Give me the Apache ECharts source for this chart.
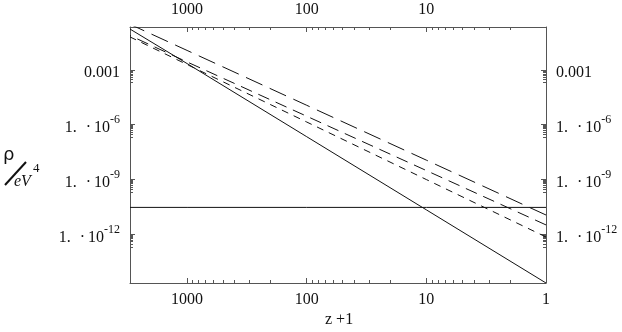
<!DOCTYPE html>
<html><head><meta charset="utf-8">
<script src="https://cdn.jsdelivr.net/npm/echarts@6/dist/echarts.min.js"></script>
<style>html,body{margin:0;padding:0;background:#fff}#c{width:622px;height:332px}</style>
</head><body><div id="c"></div>
<script>
// z+1 sample positions (log axis, reversed)
const zPlus1 = [1, 10, 100, 1000, 3000];
// energy densities in eV^4
const radiation   = [2.2e-15, 2.2e-11, 2.2e-7, 2.2e-3, 0.17];
const matterLong  = [1.15e-11, 1.15e-8, 1.15e-5, 1.15e-2, 0.31];
const matterMid   = [3.3e-12, 3.1e-9, 2.9e-6, 2.7e-3, 0.075];
const matterShort = [7.2e-13, 1.0e-9, 1.4e-6, 1.95e-3, 0.063];
const darkEnergy  = [3e-11, 3e-11, 3e-11, 3e-11, 3e-11];
// ticks
const xBottomLabels = [1, 10, 100, 1000];
const xTopLabels = [10, 100, 1000];
const xMinorTicks = [2,3,4,5,6,7,8,9,20,30,40,50,60,70,80,90,200,300,400,500,600,700,800,900];
const yMajorTicks = [1e-3, 1e-6, 1e-9, 1e-12];
const yMinorTicks = [2e-4,3e-4,4e-4,5e-4,6e-4,7e-4,8e-4,9e-4,
                     2e-7,3e-7,4e-7,5e-7,6e-7,7e-7,8e-7,9e-7,
                     2e-10,3e-10,4e-10,5e-10,6e-10,7e-10,8e-10,9e-10,
                     2e-13,3e-13,4e-13,5e-13,6e-13,7e-13,8e-13,9e-13];
const xRange = [1, 3000];
const yRange = [2.2e-15, 0.22];

const FONT = '"Liberation Serif", "Times New Roman", serif';
const FRAME = '#555';
const INK = '#111';

function pairs(ys){ return zPlus1.map((x,i)=>[x, ys[i]]); }

function yFmt(v){
  const e = Math.round(Math.log10(v));
  if (e === -3) return '{n|0.001}';
  return '{n|1.}{g|·}{n|10}{s|' + e + '}';
}
const yRich = {
  n: {fontFamily: FONT, fontSize: 16, color: INK, lineHeight: 22, verticalAlign: 'bottom'},
  g: {fontFamily: FONT, fontSize: 16, color: INK, lineHeight: 22, verticalAlign: 'bottom', padding:[0,3,0,9]},
  s: {fontFamily: FONT, fontSize: 12, color: INK, lineHeight: 12, verticalAlign: 'top'}
};

function xAx(pos, labels, major, show){
  return {
    type: 'log', logBase: 10, min: xRange[0], max: xRange[1], inverse: true, position: pos,
    axisLine: {show: show, lineStyle: {color: FRAME, width: 1}},
    axisTick: {show: true, inside: true, length: major ? 5 : 3,
               customValues: major ? labels : xMinorTicks, lineStyle:{color: FRAME}},
    axisLabel: {show: major, customValues: labels, margin: 9,
                fontFamily: FONT, fontSize: 16, color: INK, formatter: v => String(Math.round(v))},
    splitLine: {show: false}, minorTick:{show:false}
  };
}
function yAx(pos, major, show){
  return {
    type: 'log', logBase: 10, min: yRange[0], max: yRange[1], position: pos,
    axisLine: {show: show, lineStyle: {color: FRAME, width: 1}},
    axisTick: {show: true, inside: true, length: major ? 5 : 3,
               customValues: major ? yMajorTicks : yMinorTicks, lineStyle:{color: FRAME}},
    axisLabel: {show: major, customValues: yMajorTicks, margin: 10,
                formatter: yFmt, rich: yRich},
    splitLine: {show: false}, minorTick:{show:false}
  };
}

const chart = echarts.init(document.getElementById('c'), null, {renderer: 'canvas'});
const base = {type: 'line', xAxisIndex: 0, yAxisIndex: 0, symbol: 'none', clip: true,
              animation: false, silent: true};
chart.setOption({
  animation: false,
  grid: {left: 130, top: 27, width: 416, height: 256},
  xAxis: [xAx('bottom', xBottomLabels, true, true), xAx('top', xTopLabels, true, true),
          xAx('bottom', xBottomLabels, false, false), xAx('top', xTopLabels, false, false)],
  yAxis: [yAx('left', true, true), yAx('right', true, true), yAx('left', false, false), yAx('right', false, false)],
  series: [
    Object.assign({}, base, {name:'radiation', data: pairs(radiation), lineStyle:{color: INK, width: 1, type:'solid'}}),
    Object.assign({}, base, {name:'dark energy', data: pairs(darkEnergy), lineStyle:{color: INK, width: 1, type:'solid'}}),
    Object.assign({}, base, {name:'matter long', data: pairs(matterLong), lineStyle:{color: INK, width: 1, type:[18,8]}}),
    Object.assign({}, base, {name:'matter mid', data: pairs(matterMid), lineStyle:{color: INK, width: 1, type:[12,7]}}),
    Object.assign({}, base, {name:'matter short', data: pairs(matterShort), lineStyle:{color: INK, width: 1, type:[7,6]}})
  ],
  graphic: [
    {type:'text', left: 325, top: 312, style:{text:'z +1', font:'16px ' + FONT, fill: INK}},
    {type:'text', left: 3, top: 146, style:{text:'ρ', font:'18px "DejaVu Sans"', fill: INK}},
    {type:'line', shape:{x1:5, y1:185, x2:26, y2:162}, style:{stroke: INK, lineWidth: 2}},
    {type:'text', left: 14, top: 174, style:{text:'eV', font:'italic 16px ' + FONT, fill: INK}},
    {type:'text', left: 33, top: 162, style:{text:'4', font:'13px ' + FONT, fill: INK}}
  ]
});
</script></body></html>
